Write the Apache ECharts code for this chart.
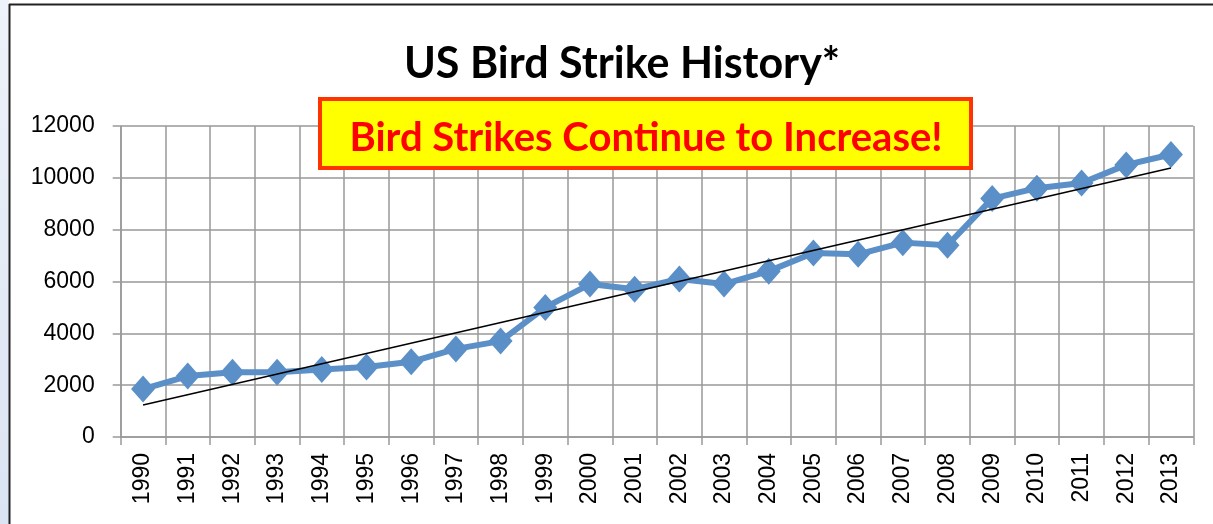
<!DOCTYPE html>
<html>
<head>
<meta charset="utf-8">
<script src="https://cdn.jsdelivr.net/npm/echarts@6/dist/echarts.min.js"></script>
<style>
html,body{margin:0;padding:0;background:#fff;}
#chart{width:1213px;height:524px;}
</style>
</head>
<body>
<div id="chart"></div>
<script>
var years = ['1990','1991','1992','1993','1994','1995','1996','1997','1998','1999','2000','2001','2002','2003','2004','2005','2006','2007','2008','2009','2010','2011','2012','2013'];
var strikes = [1850,2350,2500,2500,2600,2700,2900,3400,3700,5000,5900,5700,6100,5900,6400,7100,7050,7500,7400,9200,9600,9800,10500,10900];
var trendStart = ['1990', 1235];
var trendEnd = ['2013', 10380];
var yTicks = [0, 2000, 4000, 6000, 8000, 10000, 12000];

var chart = echarts.init(document.getElementById('chart'), null, {renderer:'canvas'});
chart.setOption({
  animation:false,
  backgroundColor:'#ffffff',
  title:{
    text:'US Bird Strike History*',
    left:617, top:38, textAlign:'center',
    textStyle:{fontFamily:'Lato', fontWeight:'bold', fontSize:43, color:'#000'}
  },
  grid:{left:120.7, right:19.7, top:126, bottom:87, containLabel:false},
  xAxis:{
    type:'category', data:years, boundaryGap:true,
    axisLine:{show:true, lineStyle:{color:'#999', width:1.5}},
    axisTick:{show:true, alignWithLabel:false, length:8, lineStyle:{color:'#999', width:1.5}},
    splitLine:{show:true, interval:0, lineStyle:{color:'#999', width:1.5}},
    axisLabel:{rotate:90, interval:0, margin:16, fontFamily:'Liberation Sans', fontSize:23, color:'#000'}
  },
  yAxis:{
    type:'value', min:yTicks[0], max:yTicks[yTicks.length-1], interval:2000,
    axisLine:{show:true, lineStyle:{color:'#999', width:1.5}},
    axisTick:{show:true, length:8, lineStyle:{color:'#999', width:1.5}},
    splitLine:{show:true, lineStyle:{color:'#999', width:1.5}},
    axisLabel:{margin:26, fontFamily:'Liberation Sans', fontSize:23, color:'#000', formatter:function(v){return String(v);}}
  },
  series:[{
    type:'line', data:strikes,
    symbol:'diamond', symbolSize:[24,27],
    lineStyle:{color:'#5b8fc8', width:6},
    itemStyle:{color:'#5b8fc8'},
    z:3,
    markLine:{
      silent:true, symbol:['none','none'], z:5,
      label:{show:false},
      lineStyle:{color:'#000', width:1.5, type:'solid'},
      data:[[{coord:trendStart},{coord:trendEnd}]]
    }
  }],
  graphic:[
    {type:'rect', shape:{x:0,y:0,width:9,height:524}, style:{fill:new echarts.graphic.LinearGradient(0,0,0,1,[{offset:0,color:'#eef2fa'},{offset:1,color:'#dbe4f3'}])}, z:100},
    {type:'line', shape:{x1:9.5,y1:4,x2:9.5,y2:524}, style:{stroke:'#222', lineWidth:2}, z:101},
    {type:'line', shape:{x1:9,y1:4.5,x2:1213,y2:4.5}, style:{stroke:'#222', lineWidth:2}, z:101},
    {type:'rect', shape:{x:320,y:99,width:651,height:69}, style:{fill:'#ffff00', stroke:'#ff3300', lineWidth:4}, z:50},
    {type:'text', x:646, y:138, style:{text:'Bird Strikes Continue to Increase!', fill:'#ff0000', font:'bold 40px Lato', textAlign:'center', textVerticalAlign:'middle'}, z:51}
  ]
});
</script>
</body>
</html>
